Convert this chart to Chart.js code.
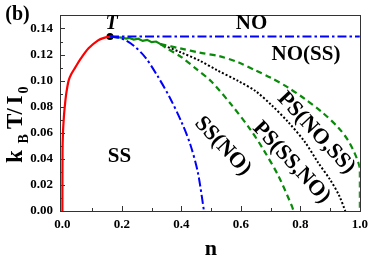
<!DOCTYPE html>
<html><head><meta charset="utf-8">
<script src="https://cdn.jsdelivr.net/npm/chart.js@4/dist/chart.umd.min.js"></script>
<style>html,body{margin:0;padding:0;background:#fff}#c{display:block}</style>
</head><body>
<canvas id="c" width="374" height="265"></canvas>
<script>
// ---- data ----
const xTickValues = [0, 0.2, 0.4, 0.6, 0.8, 1.0];
const yTickValues = [0, 0.02, 0.04, 0.06, 0.08, 0.10, 0.12, 0.14];
const xMinorTicks = [0.1, 0.3, 0.5, 0.7, 0.9];
const yMinorTicks = [0.01, 0.03, 0.05, 0.07, 0.09, 0.11, 0.13];

const redN = [0, 0.0005, 0.002, 0.005, 0.008, 0.013, 0.021, 0.03, 0.043, 0.06, 0.088, 0.12, 0.14, 0.16];
const redT = [0, 0.045, 0.06, 0.072, 0.08, 0.09, 0.1, 0.105, 0.11, 0.1163, 0.1248, 0.1309, 0.1328, 0.1338];

const noLineN = [0.16, 1.0];
const noLineT = [0.1338, 0.1338];

const ssLineN = [0.16, 0.2, 0.24, 0.28, 0.32, 0.36, 0.40, 0.43, 0.455, 0.476];
const ssLineT = [0.1338, 0.1322, 0.1268, 0.1175, 0.1035, 0.0875, 0.0685, 0.051, 0.030, 0];

const wiggleN = [0.16, 0.18, 0.2, 0.215, 0.225, 0.24, 0.255, 0.27, 0.285, 0.30, 0.315, 0.33];
const wiggleT = [0.1338, 0.1334, 0.1330, 0.1322, 0.1328, 0.1315, 0.1322, 0.1305, 0.1313, 0.1295, 0.1300, 0.128];

const innerN = [0.33, 0.35, 0.40, 0.45, 0.50, 0.57, 0.632, 0.676, 0.726, 0.771, 0.777];
const innerT = [0.128, 0.1249, 0.118, 0.109, 0.0995, 0.081, 0.0625, 0.047, 0.027, 0.004, 0];

const dottedN = [0.33, 0.40, 0.46, 0.52, 0.593, 0.649, 0.704, 0.76, 0.815, 0.86, 0.90, 0.93, 0.951];
const dottedT = [0.128, 0.1215, 0.1155, 0.108, 0.0995, 0.092, 0.081, 0.068, 0.053, 0.037, 0.024, 0.012, 0];

const outerN = [0.33, 0.40, 0.46, 0.527, 0.593, 0.649, 0.704, 0.76, 0.815, 0.871, 0.927, 0.96, 0.982, 0.995, 1.0, 1.0];
const outerT = [0.128, 0.1245, 0.1215, 0.1188, 0.1139, 0.1079, 0.1018, 0.0945, 0.086, 0.0762, 0.0641, 0.0543, 0.0446, 0.037, 0.032, 0];

const tripleN = [0.16];
const tripleT = [0.1338];

// ---- helpers ----
const FONT = "'Liberation Serif', 'Times New Roman', serif";
const pts = (xs, ys) => xs.map((x, i) => ({x: x, y: ys[i]}));
const BLUE = '#0000ff', GREEN = '#0a8a0a', RED = '#ff0000';

const regionLabels = [
  {text: 'T', n: 0.1656, t: 0.1439, style: 'italic bold', size: 20, rot: 0},
  {text: 'NO', n: 0.636, t: 0.1435, style: 'bold', size: 21, rot: 0},
  {text: 'NO(SS)', n: 0.819, t: 0.1202, style: 'bold', size: 21, rot: 0},
  {text: 'SS', n: 0.192, t: 0.042, style: 'bold', size: 21, rot: 0},
  {text: 'SS(NO)', n: 0.539, t: 0.0497, style: 'bold', size: 22, rot: 47},
  {text: 'PS(SS,NO)', n: 0.770, t: 0.0373, style: 'bold', size: 22, rot: 47},
  {text: 'PS(NO,SS)', n: 0.853, t: 0.0599, style: 'bold', size: 22, rot: 47}
];

const framePlugin = {
  id: 'frame',
  beforeDatasetsDraw(chart) {
    const {ctx, chartArea: a, scales: {x, y}} = chart;
    ctx.save();
    ctx.strokeStyle = '#333';
    ctx.lineWidth = 1;
    ctx.beginPath();
    xTickValues.forEach(v => { const p = Math.round(x.getPixelForValue(v)) + 0.5; ctx.moveTo(p, a.bottom); ctx.lineTo(p, a.bottom - 5); });
    xMinorTicks.forEach(v => { const p = Math.round(x.getPixelForValue(v)) + 0.5; ctx.moveTo(p, a.bottom); ctx.lineTo(p, a.bottom - 3); });
    yTickValues.forEach(v => { const p = Math.round(y.getPixelForValue(v)) + 0.5; ctx.moveTo(a.left, p); ctx.lineTo(a.left + 5, p); });
    yMinorTicks.forEach(v => { const p = Math.round(y.getPixelForValue(v)) + 0.5; ctx.moveTo(a.left, p); ctx.lineTo(a.left + 3, p); });
    ctx.stroke();
    ctx.restore();
  },
  afterDatasetsDraw(chart) {
    const {ctx, chartArea: a, scales: {x, y}} = chart;
    ctx.save();
    ctx.strokeStyle = '#333';
    ctx.lineWidth = 1;
    ctx.strokeRect(Math.round(a.left) + 0.5, Math.round(a.top) + 0.5, Math.round(a.right - a.left), Math.round(a.bottom - a.top));
    ctx.fillStyle = '#000';
    ctx.textAlign = 'center';
    ctx.textBaseline = 'middle';
    regionLabels.forEach(l => {
      ctx.save();
      ctx.translate(x.getPixelForValue(l.n), y.getPixelForValue(l.t));
      ctx.rotate(l.rot * Math.PI / 180);
      ctx.font = l.style + ' ' + l.size + 'px ' + FONT;
      ctx.fillText(l.text, 0, 0);
      ctx.restore();
    });
    // panel tag
    ctx.font = 'bold 20px ' + FONT;
    ctx.fillText('(b)', 17.5, 15);
    // x title
    ctx.font = 'bold 22px ' + FONT;
    ctx.fillText('n', (a.left + a.right) / 2 + 1, 249);
    // y title with subscripts, rotated
    ctx.save();
    ctx.translate(21.5, 163);
    ctx.rotate(-Math.PI / 2);
    ctx.textAlign = 'left';
    ctx.textBaseline = 'alphabetic';
    const pieces = [
      {s: 'k', off: 0, size: 23, dy: 0},
      {s: 'B', off: 19.5, size: 14, dy: 6},
      {s: 'T', off: 34, size: 23, dy: 0},
      {s: '/', off: 48.5, size: 23, dy: 0},
      {s: 'I', off: 58.5, size: 23, dy: 0},
      {s: '0', off: 69.5, size: 14, dy: 6}
    ];
    pieces.forEach(p => { ctx.font = 'bold ' + p.size + 'px ' + FONT; ctx.fillText(p.s, p.off, p.dy); });
    ctx.restore();
    ctx.restore();
  }
};

const lineDs = (data, color, dash, width, tension) => ({
  data: data, borderColor: color, borderWidth: width, borderDash: dash,
  pointRadius: 0, fill: false, tension: tension, showLine: true
});

new Chart(document.getElementById('c'), {
  type: 'line',
  data: {
    datasets: [
      lineDs(pts(redN, redT), RED, [], 2.2, 0.3),
      lineDs(pts(noLineN, noLineT), BLUE, [9, 3, 2.5, 3], 2, 0),
      lineDs(pts(ssLineN, ssLineT), BLUE, [9, 3, 2.5, 3], 2, 0.3),
      lineDs(pts(innerN, innerT), GREEN, [6, 4], 2.2, 0.3),
      lineDs(pts(outerN, outerT), GREEN, [6, 4], 2.2, 0.3),
      lineDs(pts(dottedN, dottedT), '#000', [2, 2], 2, 0.3),
      lineDs(pts(wiggleN, wiggleT), GREEN, [], 2.2, 0),
      {data: pts(tripleN, tripleT), showLine: false, pointRadius: 3.5, pointBackgroundColor: '#000', pointBorderColor: '#000', borderWidth: 0}
    ]
  },
  options: {
    responsive: false,
    animation: false,
    events: [],
    layout: {padding: {top: 5, right: 12, left: 0, bottom: 0}},
    plugins: {legend: {display: false}, tooltip: {enabled: false}},
    scales: {
      x: {
        type: 'linear', min: -0.008, max: 1.0,
        grid: {display: false, drawTicks: false},
        border: {display: false},
        afterBuildTicks: s => { s.ticks = xTickValues.map(v => ({value: v})); },
        afterFit: s => { s.height = 54; },
        ticks: {padding: 6, color: '#000', font: {family: FONT, size: 13, weight: 'bold'},
                callback: v => Number(v).toFixed(1)}
      },
      y: {
        type: 'linear', min: 0, max: 0.1505,
        grid: {display: false, drawTicks: false},
        border: {display: false},
        afterBuildTicks: s => { s.ticks = yTickValues.map(v => ({value: v})); },
        afterFit: s => { s.width = 60; },
        ticks: {padding: 7, color: '#000', font: {family: FONT, size: 13, weight: 'bold'},
                callback: v => Number(v).toFixed(2)}
      }
    }
  },
  plugins: [framePlugin]
});
</script>
</body></html>
